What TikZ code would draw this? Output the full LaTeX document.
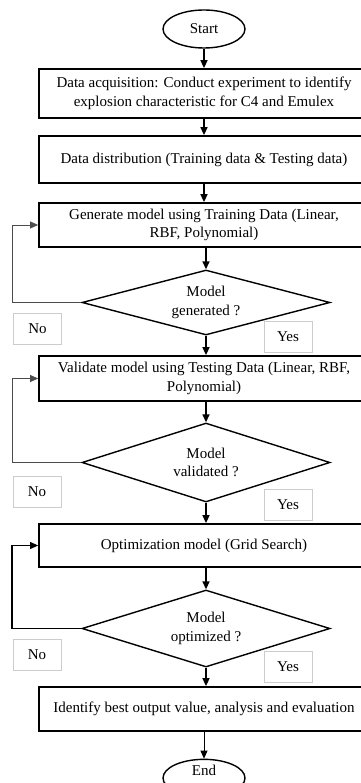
\documentclass[tikz,border=0pt]{standalone}
\usepackage{fontspec}
\setmainfont{Liberation Serif}
\usetikzlibrary{arrows.meta,%
                shapes.geometric}

\begin{document}
\begin{tikzpicture}[x=1pt,y=-1pt,font=\fontsize{15}{18.5}\selectfont]
  \useasboundingbox (0,0) rectangle (360,783);
  \tikzstyle{Terminal}=[draw,ellipse,line width=1.4pt,minimum width=82pt,minimum height=38pt,inner sep=0pt]
  \tikzstyle{Process}=[draw,line width=1.8pt,minimum width=330pt,align=center,inner sep=0pt]
  \tikzstyle{Decision}=[draw,diamond,line width=1.4pt,minimum width=248pt,align=center,inner sep=0pt]
  \tikzstyle{Answer}=[draw=black!20,line width=0.6pt,minimum width=48pt,minimum height=31pt,inner sep=0pt]
  \tikzstyle{Flow}=[-{Triangle[length=8pt,width=7pt]},line width=1.6pt]
  \tikzstyle{Back}=[-{Triangle[length=8pt,width=7pt]},line width=0.7pt]
  \node[Terminal] (Start) at (204,29) {Start};
  \node[Process,minimum height=49pt] (Acq) at (204,93.5)
    {Data acquisition: Conduct experiment to identify\\explosion characteristic for C4 and Emulex};
  \node[Process,minimum height=47pt] (Dist) at (204,159.5)
    {Data distribution (Training data \& Testing data)};
  \node[Process,minimum height=44pt] (Gen) at (204,225)
    {Generate model using Training Data (Linear,\\RBF, Polynomial)};
  \node[Decision,aspect=3.8,minimum height=65pt] (DecGen) at (206,302.5) {Model\\generated ?};
  \node[Process,minimum height=45pt] (Val) at (204,378.5)
    {Validate model using Testing Data (Linear, RBF,\\Polynomial)};
  \node[Decision,aspect=3.1,minimum height=79pt] (DecVal) at (206,462.5) {Model\\validated ?};
  \node[Process,minimum height=43pt] (Opt) at (204,545.5)
    {Optimization model (Grid Search)};
  \node[Decision,aspect=3.2,minimum height=77pt] (DecOpt) at (206,628.5) {Model\\optimized ?};
  \node[Process,minimum height=44pt] (Best) at (204,709)
    {Identify best output value, analysis and evaluation};
  \node[Terminal,minimum height=34pt,text depth=16pt] (End) at (204,778) {End};
  \node[Answer] (NoGen) at (37.5,328.5) {No};
  \node[Answer] (YesGen) at (288,336.5) {Yes};
  \node[Answer] (NoVal) at (37,492) {No};
  \node[Answer] (YesVal) at (288,504.5) {Yes};
  \node[Answer] (NoOpt) at (37,654.5) {No};
  \node[Answer] (YesOpt) at (288,666.5) {Yes};
  \coordinate (Rail) at (12,0);
  \draw[Flow] (Start) -- (Acq);
  \draw[Flow] (Acq) -- (Dist);
  \draw[Flow] (Dist) -- (Gen);
  \draw[Flow] (Gen.south -| DecGen.north) -- (DecGen.north);
  \draw[Flow] (DecGen.south) -- (DecGen.south |- Val.north);
  \draw[Flow] (Val.south -| DecVal.north) -- (DecVal.north);
  \draw[Flow] (DecVal.south) -- (DecVal.south |- Opt.north);
  \draw[Flow] (Opt.south -| DecOpt.north) -- (DecOpt.north);
  \draw[Flow] (DecOpt.south) -- (DecOpt.south |- Best.north);
  \draw[Flow,line width=0.8pt] (Best) -- (End);
  \draw[Back,draw=black!70] (DecGen.west) -- (DecGen.west -| Rail) |- (Gen.west);
  \draw[Back,draw=black!70] (DecVal.west) -- (DecVal.west -| Rail) |- (Val.west);
  \draw[Back,line width=1.1pt] (DecOpt.west) -- (DecOpt.west -| Rail) |- (Opt.west);
\end{tikzpicture}
\end{document}
